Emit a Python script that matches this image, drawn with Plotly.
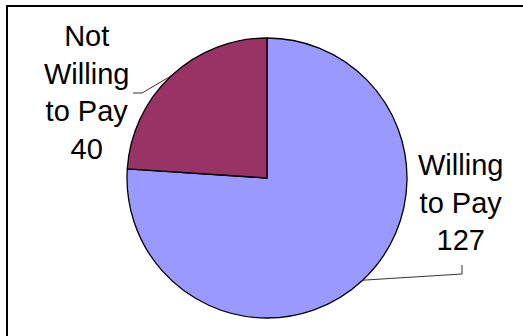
import math
import plotly.graph_objects as go

# ---- data ----
labels = ["Willing to Pay", "Not Willing to Pay"]
label_lines = [["Willing", "to Pay"], ["Not", "Willing", "to Pay"]]
values = [127, 40]
colors = ["#9999FF", "#993366"]

W, H = 523, 336
# pie placement (pixel space)
cx, cy, r = 267, 178, 140

# label placement (pixel space) and leader elbows
label_pos = [(460, 202), (86, 92)]
elbows = [[(462, 274), (462, 265)], [(142, 93), (133, 93)]]

fig = go.Figure()

fig.add_trace(go.Pie(
    labels=labels, values=values, sort=False, direction="clockwise", rotation=0,
    marker=dict(colors=colors, line=dict(color="black", width=1.3)),
    textinfo="none", hoverinfo="label+value", showlegend=False,
    domain=dict(x=[(cx - r) / W, (cx + r) / W], y=[1 - (cy + r) / H, 1 - (cy - r) / H]),
))

# leader lines from slice mid-angles (computed from data)
total = sum(values)
cum = 0
for i, v in enumerate(values):
    mid = (cum + v / 2) / total * 2 * math.pi  # clockwise from 12 o'clock
    cum += v
    ex = cx + r * math.sin(mid)
    ey = cy - r * math.cos(mid)
    pts = [(ex, ey)] + elbows[i]
    fig.add_trace(go.Scatter(
        x=[p[0] for p in pts], y=[p[1] for p in pts], mode="lines",
        line=dict(color="black", width=0.8), hoverinfo="skip", showlegend=False,
    ))
    fig.add_annotation(
        x=label_pos[i][0], y=label_pos[i][1], xref="x", yref="y",
        text="<br>".join(label_lines[i] + [str(v)]), showarrow=False,
        align="center", xanchor="center", yanchor="middle",
        font=dict(family="Liberation Sans, Arial, sans-serif", size=29, color="black"),
    )

# chart frame (left and top edges visible; the rest lies outside the view)
fig.add_shape(type="line", xref="x", yref="y", x0=7, x1=7, y0=6, y1=H,
              line=dict(color="black", width=2))
fig.add_shape(type="line", xref="x", yref="y", x0=6, x1=W, y0=6, y1=6,
              line=dict(color="black", width=2))

fig.update_layout(
    width=W, height=H, margin=dict(l=0, r=0, t=0, b=0),
    paper_bgcolor="white", plot_bgcolor="rgba(0,0,0,0)",
    xaxis=dict(range=[0, W], visible=False, fixedrange=True),
    yaxis=dict(range=[H, 0], visible=False, fixedrange=True),
)

fig.write_html(
    "out.html",
    config={"displayModeBar": False},
    post_script=(
        "document.documentElement.style.margin='0';"
        "document.documentElement.style.overflow='hidden';"
        "document.body.style.margin='0';document.body.style.overflow='hidden';"
    ),
)
